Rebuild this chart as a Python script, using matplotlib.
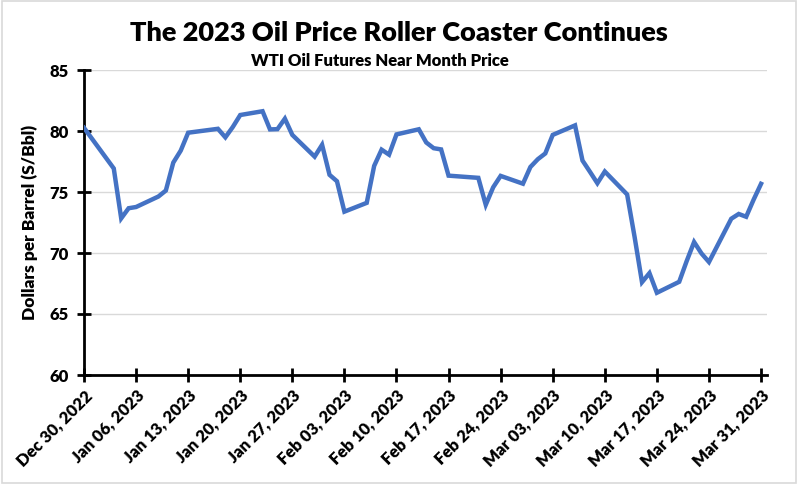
import matplotlib
matplotlib.use("Agg")
import matplotlib.pyplot as plt
import matplotlib.dates as mdates
import numpy as np
import pandas as pd
from matplotlib.patches import Rectangle

dates = ["2022-12-30", "2023-01-03", "2023-01-04", "2023-01-05", "2023-01-06",
         "2023-01-09", "2023-01-10", "2023-01-11", "2023-01-12", "2023-01-13",
         "2023-01-17", "2023-01-18", "2023-01-19", "2023-01-20",
         "2023-01-23", "2023-01-24", "2023-01-25", "2023-01-26", "2023-01-27",
         "2023-01-30", "2023-01-31", "2023-02-01", "2023-02-02", "2023-02-03",
         "2023-02-06", "2023-02-07", "2023-02-08", "2023-02-09", "2023-02-10",
         "2023-02-13", "2023-02-14", "2023-02-15", "2023-02-16", "2023-02-17",
         "2023-02-21", "2023-02-22", "2023-02-23", "2023-02-24",
         "2023-02-27", "2023-02-28", "2023-03-01", "2023-03-02", "2023-03-03",
         "2023-03-06", "2023-03-07", "2023-03-08", "2023-03-09", "2023-03-10",
         "2023-03-13", "2023-03-14", "2023-03-15", "2023-03-16", "2023-03-17",
         "2023-03-20", "2023-03-21", "2023-03-22", "2023-03-23", "2023-03-24",
         "2023-03-27", "2023-03-28", "2023-03-29", "2023-03-30", "2023-03-31"]
prices = [80.26, 76.93, 72.84, 73.67, 73.77,
          74.63, 75.12, 77.41, 78.39, 79.86,
          80.18, 79.48, 80.33, 81.31,
          81.62, 80.13, 80.15, 81.01, 79.68,
          77.90, 78.87, 76.41, 75.88, 73.39,
          74.11, 77.14, 78.47, 78.06, 79.72,
          80.14, 79.06, 78.59, 78.49, 76.34,
          76.16, 73.95, 75.39, 76.32,
          75.68, 77.05, 77.69, 78.16, 79.68,
          80.46, 77.58, 76.66, 75.72, 76.68,
          74.80, 71.33, 67.61, 68.35, 66.74,
          67.64, 69.33, 70.90, 69.96, 69.26,
          72.81, 73.20, 72.97, 74.37, 75.67]
tick_dates = ["2022-12-30", "2023-01-06", "2023-01-13", "2023-01-20", "2023-01-27",
              "2023-02-03", "2023-02-10", "2023-02-17", "2023-02-24", "2023-03-03",
              "2023-03-10", "2023-03-17", "2023-03-24", "2023-03-31"]
tick_labels = ["Dec 30, 2022", "Jan 06, 2023", "Jan 13, 2023", "Jan 20, 2023",
               "Jan 27, 2023", "Feb 03, 2023", "Feb 10, 2023", "Feb 17, 2023",
               "Feb 24, 2023", "Mar 03, 2023", "Mar 10, 2023", "Mar 17, 2023",
               "Mar 24, 2023", "Mar 31, 2023"]
y_ticks = [60, 65, 70, 75, 80, 85]

plt.rcParams['font.family'] = ['Lato', 'DejaVu Sans']
W = "heavy"

x = pd.to_datetime(dates)
xt = pd.to_datetime(tick_dates)

fig = plt.figure(figsize=(7.98, 4.84), dpi=100)
fig.patches.append(Rectangle((0.002, 0.002), 0.996, 0.996, transform=fig.transFigure,
                             fill=False, edgecolor="#D9D9D9", linewidth=1.2))
ax = fig.add_axes([84/798, 1-375/484, (767-84)/798, (375-70)/484])

ax.plot(x, prices, color="#4472C4", linewidth=3.2, solid_joinstyle="miter", zorder=3)

ax.set_ylim(60, 85)
ax.set_yticks(y_ticks)
ax.set_xlim(pd.Timestamp("2022-12-30"), pd.Timestamp("2022-12-30") + pd.Timedelta(days=91.8))
ax.set_xticks(xt)
ax.set_xticklabels(tick_labels, rotation=45, ha="right", rotation_mode="anchor",
                   fontsize=12, fontweight=W)
for lab in ax.get_yticklabels():
    lab.set_fontsize(12)
    lab.set_fontweight(W)

ax.grid(axis="y", color="#D9D9D9", linewidth=1)
ax.set_axisbelow(True)
for s in ["top", "right"]:
    ax.spines[s].set_visible(False)
for s in ["left", "bottom"]:
    ax.spines[s].set_linewidth(2)
    ax.spines[s].set_color("black")
ax.tick_params(axis="both", direction="inout", length=10, width=2, color="black")
ax.tick_params(axis="x", pad=4)
ax.tick_params(axis="y", pad=6)

ax.set_ylabel("Dollars per Barrel (S/Bbl)", fontsize=12.5, fontweight=W, labelpad=8)

fig.text(0.5, 1-33/484, "The 2023 Oil Price Roller Coaster Continues", ha="center", va="center",
         fontsize=19.5, fontweight=W)
fig.text(380/798, 1-61/484, "WTI Oil Futures Near Month Price", ha="center", va="center",
         fontsize=12, fontweight=W)

fig.savefig("out.png", dpi=100)
